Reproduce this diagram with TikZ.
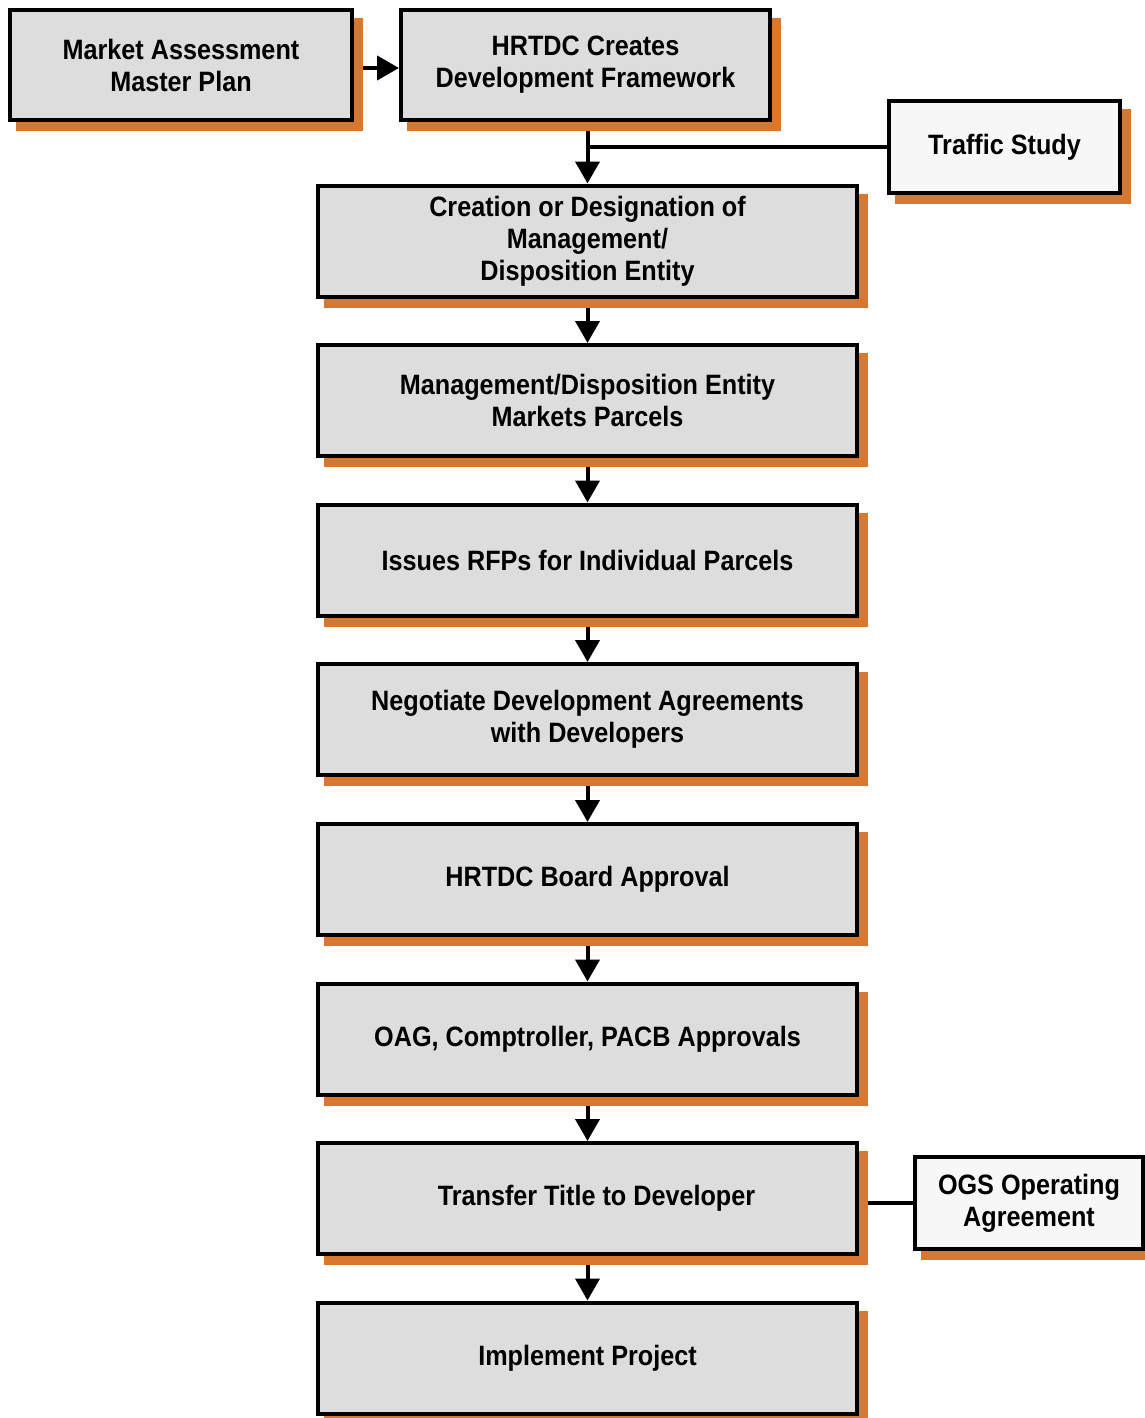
\documentclass[tikz,border=0pt]{standalone}
\usepackage{fontspec}
\setmainfont{Liberation Sans}[FakeStretch=0.9]
\usetikzlibrary{arrows.meta,calc}
\definecolor{shadowc}{HTML}{D9772E}
\definecolor{boxfill}{HTML}{DDDDDD}
\definecolor{sidefill}{HTML}{F7F7F7}
\pgfdeclarelayer{lines}
\pgfdeclarelayer{shadowlayer}
\pgfsetlayers{lines,shadowlayer,main}
\tikzset{
  stepbox/.style={draw=black, line width=4pt, fill=boxfill, align=center,
    font=\fontsize{28}{32}\selectfont\bfseries, inner sep=0pt},
  mainbox/.style={stepbox, minimum width=539pt, minimum height=111pt},
  sidebox/.style={stepbox, fill=sidefill, minimum height=92pt},
  conn/.style={line width=4pt, draw=black},
  arr/.style={conn, -{Triangle[width=24pt,length=22pt]}},
}
\newcommand{\boxshadow}[1]{%
  \fill[shadowc] ([shift={(8pt,-9pt)}]#1.south west) rectangle ([shift={(9pt,-10pt)}]#1.north east);}
\begin{document}
\begin{tikzpicture}[x=1pt,y=-1pt]
\useasboundingbox (0,0) rectangle (1145,1418);
\node[stepbox, minimum width=342pt, minimum height=110pt] (mkt) at (181,65) {Market Assessment\\Master Plan};
\node[stepbox, minimum width=369pt, minimum height=110pt] (hrt) at (585.5,65) {HRTDC Creates\\Development Framework};
\node[sidebox, minimum width=231pt] (traffic) at (1004.5,147) {Traffic Study};
\node[mainbox] (crea) at (587.5,241) {Creation or Designation of\\Management/\\Disposition Entity};
\node[mainbox] (mkp) at (587.5,400.5) {Management/Disposition Entity\\Markets Parcels};
\node[mainbox] (rfp) at (587.5,560) {Issues RFPs for Individual Parcels};
\node[mainbox] (neg) at (587.5,719.5) {Negotiate Development Agreements\\with Developers};
\node[mainbox] (board) at (587.5,879.5) {HRTDC Board Approval};
\node[mainbox] (oag) at (587.5,1039) {OAG, Comptroller, PACB Approvals};
\node[mainbox] (title) at (587.5,1198.5) {\hspace*{18pt}Transfer Title to Developer};
\node[sidebox, minimum width=228pt] (ogs) at (1029,1203) {OGS Operating\\Agreement};
\node[mainbox] (impl) at (587.5,1358) {Implement Project};
\begin{pgfonlayer}{shadowlayer}
\foreach \n in {mkt,hrt,traffic,crea,mkp,rfp,neg,board,oag,title,ogs,impl}{\boxshadow{\n}}
\end{pgfonlayer}
\begin{pgfonlayer}{lines}
\coordinate (tj) at (crea.north |- traffic.west);
\draw[arr] ([yshift=-3pt]mkt.east) -- ([yshift=-3pt]hrt.west);
\draw[arr] (crea.north |- hrt.south) -- (crea.north);
\draw[conn] (traffic.west) -- (tj);
\draw[arr] (crea.south) -- (mkp.north);
\draw[arr] (mkp.south) -- (rfp.north);
\draw[arr] (rfp.south) -- (neg.north);
\draw[arr] (neg.south) -- (board.north);
\draw[arr] (board.south) -- (oag.north);
\draw[arr] (oag.south) -- (title.north);
\draw[arr] (title.south) -- (impl.north);
\draw[conn] (title.east |- ogs.west) -- (ogs.west);
\end{pgfonlayer}
\end{tikzpicture}
\end{document}
